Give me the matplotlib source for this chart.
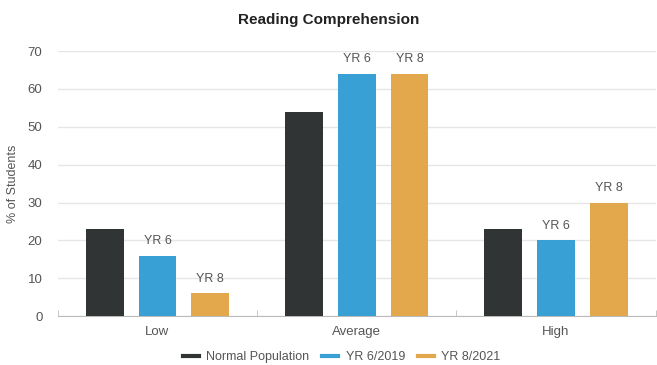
import numpy as np
import matplotlib.pyplot as plt

plt.rcParams["font.family"] = ["Liberation Sans", "DejaVu Sans"]

categories = ["Low", "Average", "High"]
normal_pop = [23, 54, 23]
yr6_2019 = [16, 64, 20]
yr8_2021 = [6, 64, 30]
series_names = ["Normal Population", "YR 6/2019", "YR 8/2021"]
bar_tags = [None, "YR 6", "YR 8"]

colors = ["#303434", "#38a0d5", "#e2a84b"]
text_col = "#555555"

fig = plt.figure(figsize=(6.57, 3.65), dpi=100)
ax = fig.add_axes([0.088, 0.134, 0.910, 0.726])

x = np.arange(len(categories))
width = 0.19
offsets = [-0.265, 0, 0.265]

for vals, off, col, name, tag in zip([normal_pop, yr6_2019, yr8_2021], offsets, colors, series_names, bar_tags):
    bars = ax.bar(x + off, vals, width, color=col, label=name, zorder=3)
    if tag:
        for b in bars:
            ax.text(b.get_x() + b.get_width() / 2, b.get_height() + 2.2, tag,
                    ha="center", va="bottom", fontsize=9, color=text_col)

ax.set_xlim(-0.5, 2.5)
ax.set_ylim(0, 70)
ax.set_yticks(range(0, 71, 10))
ax.set_xticks(x)
ax.set_xticklabels(categories)
ax.set_xticks([-0.5, 0.5, 1.5, 2.5], minor=True)
ax.tick_params(axis="x", which="major", length=0, pad=7, labelsize=9.5, labelcolor=text_col)
ax.tick_params(axis="x", which="minor", length=4, color="#bbbbbb", direction="in")
ax.tick_params(axis="y", length=0, pad=11, labelsize=9.5, labelcolor=text_col)

ax.grid(axis="y", color="#e6e6e6", linewidth=1, zorder=0)
for s in ["top", "right", "left"]:
    ax.spines[s].set_visible(False)
ax.spines["bottom"].set_color("#bbbbbb")

ax.set_ylabel("% of Students", fontsize=9, color=text_col, labelpad=6)
fig.text(0.5, 0.945, "Reading Comprehension", ha="center", va="center",
         fontsize=11, fontweight="bold", color="#222222")

handles = [plt.Line2D([0], [0], color=c, linewidth=3) for c in colors]
fig.legend(handles, series_names, loc="center", bbox_to_anchor=(0.52, 0.022),
           ncol=3, frameon=False, fontsize=9, labelcolor=text_col,
           handlelength=1.3, handletextpad=0.6, columnspacing=1.0)

fig.savefig("out.png", dpi=100)
